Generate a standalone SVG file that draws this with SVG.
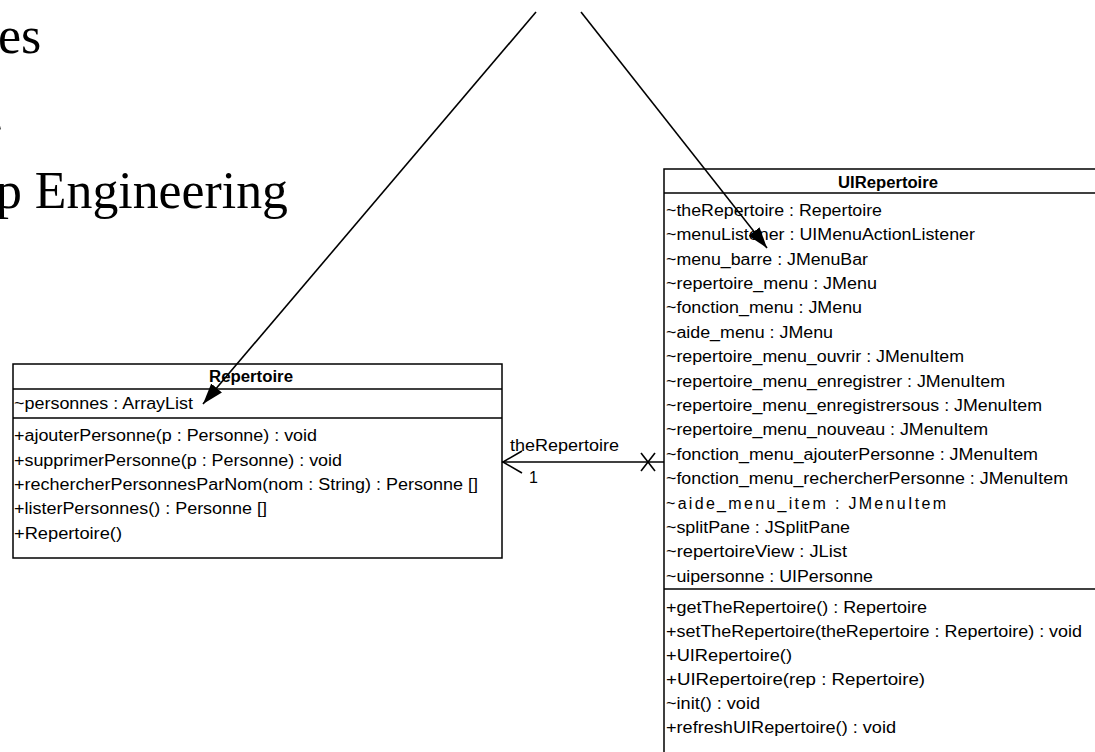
<svg xmlns="http://www.w3.org/2000/svg" width="1095" height="752" viewBox="0 0 1095 752">
  <defs>
    <style>
      .title { font-family: "Liberation Serif", "Times New Roman", serif; font-size: 52px; fill: #000; }
      .uml { font-family: "Liberation Sans", Arial, sans-serif; font-size: 16px; fill: #000; }
      .hdr { font-weight: bold; }
      .box { fill: #fff; stroke: #000; stroke-width: 1.5; }
      .sep { stroke: #000; stroke-width: 1.5; }
      .edge { stroke: #000; stroke-width: 1.6; fill: none; }
    </style>
    <marker id="filled" markerUnits="userSpaceOnUse" markerWidth="22" markerHeight="16" refX="21" refY="7" orient="auto">
      <path d="M0,0 L21,7 L0,14 Z" fill="#000"/>
    </marker>
  </defs>
  <rect width="1095" height="752" fill="#fff"/>

  <!-- slide title fragments -->
  <g id="title">
    <text class="title" x="-2" y="53">es</text>
    <text class="title" x="-9" y="131">.</text>
    <text class="title" x="-4" y="208" textLength="292" lengthAdjust="spacingAndGlyphs">p Engineering</text>
  </g>

  <!-- class Repertoire -->
  <g id="repertoire">
    <rect class="box" x="13" y="364" width="489" height="194"/>
    <line class="sep" x1="13" y1="389" x2="502" y2="389"/>
    <line class="sep" x1="13" y1="418" x2="502" y2="418"/>
    <text class="uml hdr" x="209" y="382" textLength="84" lengthAdjust="spacingAndGlyphs">Repertoire</text>
    <text class="uml" x="14" y="409" textLength="179" lengthAdjust="spacingAndGlyphs">~personnes : ArrayList</text>
    <text class="uml" x="14" y="441" textLength="303" lengthAdjust="spacingAndGlyphs">+ajouterPersonne(p : Personne) : void</text>
    <text class="uml" x="14" y="465.5" textLength="328" lengthAdjust="spacingAndGlyphs">+supprimerPersonne(p : Personne) : void</text>
    <text class="uml" x="14" y="490" textLength="464" lengthAdjust="spacingAndGlyphs">+rechercherPersonnesParNom(nom : String) : Personne []</text>
    <text class="uml" x="14" y="514" textLength="253" lengthAdjust="spacingAndGlyphs">+listerPersonnes() : Personne []</text>
    <text class="uml" x="14" y="538.5" textLength="108" lengthAdjust="spacingAndGlyphs">+Repertoire()</text>
  </g>

  <!-- class UIRepertoire -->
  <g id="uirepertoire">
    <rect class="box" x="664" y="169" width="460" height="600"/>
    <line class="sep" x1="664" y1="193" x2="1124" y2="193"/>
    <line class="sep" x1="664" y1="589" x2="1124" y2="589"/>
    <text class="uml hdr" x="838" y="187.5" textLength="100" lengthAdjust="spacingAndGlyphs">UIRepertoire</text>
    <text class="uml" x="666" y="215.5" textLength="216" lengthAdjust="spacingAndGlyphs">~theRepertoire : Repertoire</text>
    <text class="uml" x="666" y="240" textLength="309" lengthAdjust="spacingAndGlyphs">~menuListener : UIMenuActionListener</text>
    <text class="uml" x="666" y="264.5" textLength="202" lengthAdjust="spacingAndGlyphs">~menu_barre : JMenuBar</text>
    <text class="uml" x="666" y="289" textLength="211" lengthAdjust="spacingAndGlyphs">~repertoire_menu : JMenu</text>
    <text class="uml" x="666" y="313" textLength="196" lengthAdjust="spacingAndGlyphs">~fonction_menu : JMenu</text>
    <text class="uml" x="666" y="337.5" textLength="167" lengthAdjust="spacingAndGlyphs">~aide_menu : JMenu</text>
    <text class="uml" x="666" y="362" textLength="298" lengthAdjust="spacingAndGlyphs">~repertoire_menu_ouvrir : JMenuItem</text>
    <text class="uml" x="666" y="386.5" textLength="339" lengthAdjust="spacingAndGlyphs">~repertoire_menu_enregistrer : JMenuItem</text>
    <text class="uml" x="666" y="411" textLength="376" lengthAdjust="spacingAndGlyphs">~repertoire_menu_enregistrersous : JMenuItem</text>
    <text class="uml" x="666" y="435" textLength="322" lengthAdjust="spacingAndGlyphs">~repertoire_menu_nouveau : JMenuItem</text>
    <text class="uml" x="666" y="459.5" textLength="372" lengthAdjust="spacingAndGlyphs">~fonction_menu_ajouterPersonne : JMenuItem</text>
    <text class="uml" x="666" y="484" textLength="402" lengthAdjust="spacingAndGlyphs">~fonction_menu_rechercherPersonne : JMenuItem</text>
    <text class="uml" x="666" y="508.5" textLength="280" lengthAdjust="spacing">~aide_menu_item : JMenuItem</text>
    <text class="uml" x="666" y="533" textLength="184" lengthAdjust="spacingAndGlyphs">~splitPane : JSplitPane</text>
    <text class="uml" x="666" y="557" textLength="181" lengthAdjust="spacingAndGlyphs">~repertoireView : JList</text>
    <text class="uml" x="666" y="581.5" textLength="207" lengthAdjust="spacingAndGlyphs">~uipersonne : UIPersonne</text>
    <text class="uml" x="666" y="612.5" textLength="261" lengthAdjust="spacingAndGlyphs">+getTheRepertoire() : Repertoire</text>
    <text class="uml" x="666" y="636.5" textLength="416" lengthAdjust="spacingAndGlyphs">+setTheRepertoire(theRepertoire : Repertoire) : void</text>
    <text class="uml" x="666" y="660.5" textLength="126" lengthAdjust="spacingAndGlyphs">+UIRepertoire()</text>
    <text class="uml" x="666" y="684.5" textLength="259" lengthAdjust="spacingAndGlyphs">+UIRepertoire(rep : Repertoire)</text>
    <text class="uml" x="666" y="708.5" textLength="94" lengthAdjust="spacingAndGlyphs">~init() : void</text>
    <text class="uml" x="666" y="732.5" textLength="230" lengthAdjust="spacingAndGlyphs">+refreshUIRepertoire() : void</text>
  </g>

  <!-- connectors -->
  <g id="connectors">
    <!-- association UIRepertoire -> Repertoire -->
    <line class="edge" x1="502" y1="462" x2="664" y2="462"/>
    <polyline class="edge" points="522,451 503,462 522,473"/>
    <line class="edge" x1="641" y1="453" x2="655" y2="471"/>
    <line class="edge" x1="641" y1="471" x2="655" y2="453"/>
    <text class="uml" x="510" y="450.5" textLength="109" lengthAdjust="spacingAndGlyphs">theRepertoire</text>
    <text class="uml" x="529" y="482.5">1</text>
    <!-- callout pointers -->
    <line class="edge" x1="536" y1="12" x2="203" y2="404" marker-end="url(#filled)"/>
    <line class="edge" x1="581" y1="12" x2="767" y2="248" marker-end="url(#filled)"/>
  </g>
</svg>
